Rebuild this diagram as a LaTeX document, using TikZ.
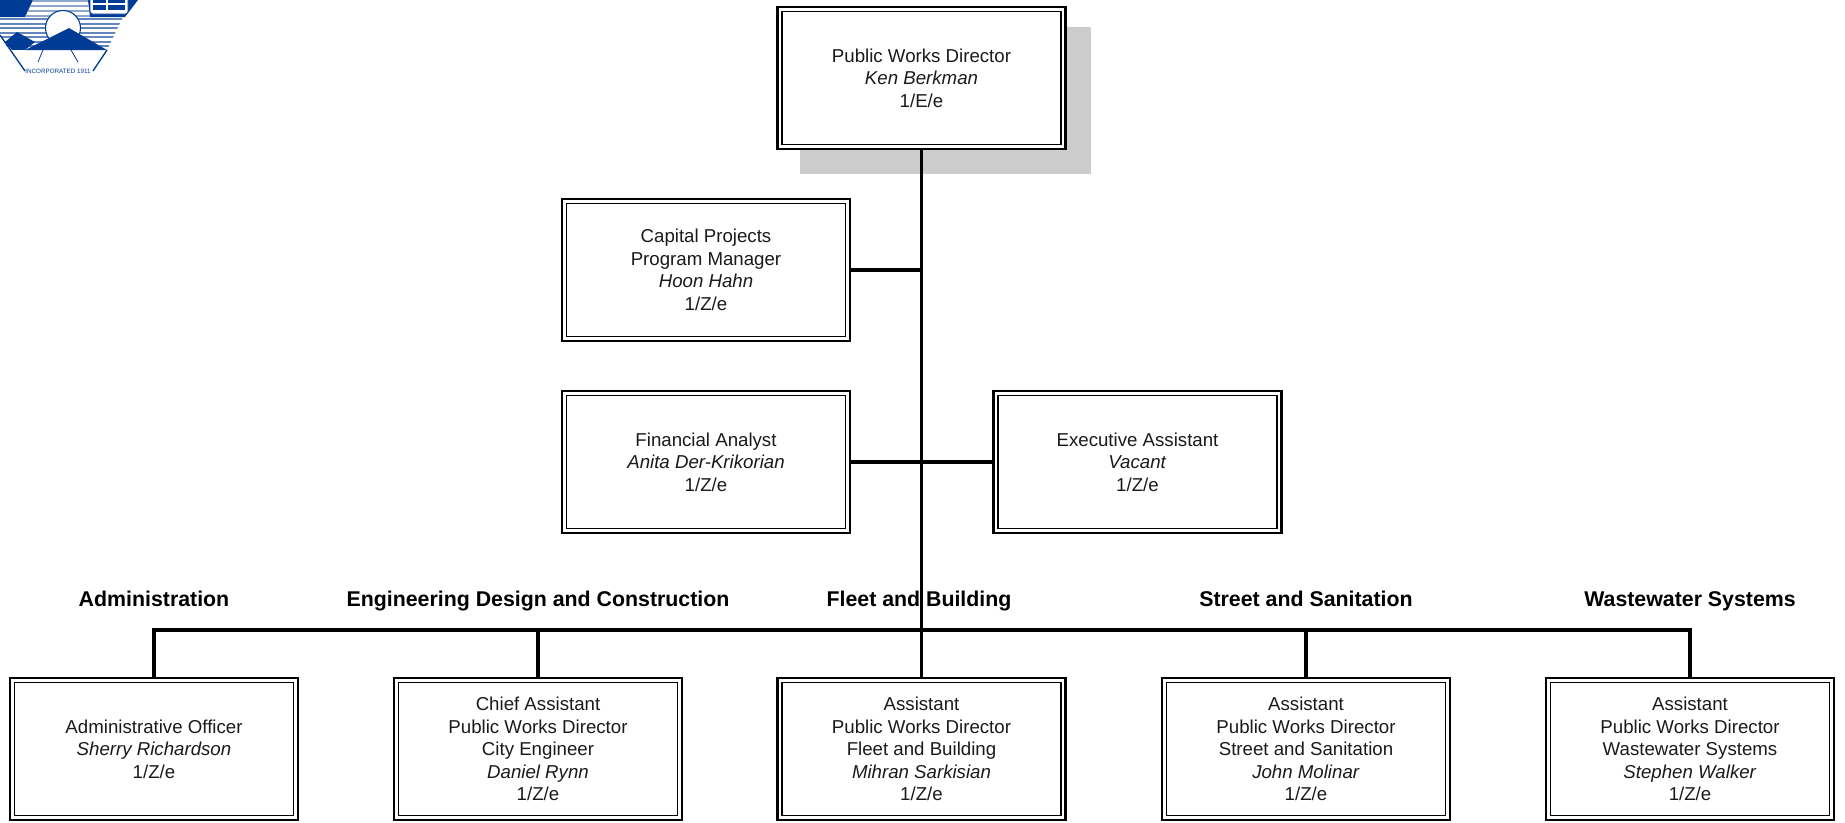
\documentclass[tikz,border=0pt]{standalone}
\usepackage{fontspec}
\setmainfont{Liberation Sans}
\definecolor{logoblue}{HTML}{003C96}
\definecolor{stripe}{HTML}{8FA6CC}
\definecolor{shadowgray}{HTML}{CCCCCC}
\definecolor{ink}{HTML}{1A1A1A}
\tikzset{
  px/.style={x=0.75pt,y=-0.75pt},
  orgbox/.style={draw=black,line width=1.9pt,fill=white,minimum width=216pt,minimum height=106.5pt,inner sep=0pt,outer sep=0pt,align=center,text=ink,font=\fontsize{14}{16.9}\selectfont,
    execute at begin node={\rule{0pt}{12.5pt}},
    path picture={\draw[black,line width=1.3pt] ([xshift=3.4pt,yshift=-3.4pt]path picture bounding box.north west) rectangle ([xshift=-3.4pt,yshift=3.4pt]path picture bounding box.south east);}},
  conn/.style={draw=black,line width=2.7pt},
  dept/.style={font=\fontsize{16}{18}\selectfont\bfseries,inner sep=0pt,anchor=base},
}
\begin{document}
\begin{tikzpicture}[px]
\useasboundingbox (0,0) rectangle (1845,822);
% logo
\begin{scope}
\clip (0,0) rectangle (1845,822);
\fill[logoblue] (0,0) -- (33,0) -- (25,17) -- (0,17) -- cycle;
\fill[logoblue] (88,0) -- (138,0) -- (125,17) -- (90,17) -- cycle;
\begin{scope}
\clip (0,17) -- (25,17) -- (33,0) -- (88,0) -- (90,17) -- (123,17) -- (107,50) -- (9,50) -- (0,35) -- cycle;
\foreach \yy in {1,6,11,16}{\draw[stripe,line width=1.3pt] (0,\yy) -- (140,\yy);}
\foreach \yy in {19,23.5,28,32.5,37,41.5,46}{\draw[stripe!70!logoblue,line width=1.5pt] (0,\yy) -- (140,\yy);}
\end{scope}
\fill[white] (63,28) circle (17.5);
\draw[logoblue,line width=0.8pt] (63,28) circle (17.5);
\fill[logoblue] (5,42) -- (17,32) -- (35,42) -- (25,50) -- (12,50) -- cycle;
\fill[white] (0,50) rectangle (120,60);
\fill[logoblue] (25,50) -- (69,28) -- (107,50) -- cycle;
\draw[logoblue,line width=1pt] (0,35) -- (25,71);
\draw[logoblue,line width=1pt] (107,50) -- (93,71);
\draw[logoblue,line width=0.6pt] (43,50) -- (38,62) (71,50) -- (78,62);
\fill[white,draw=logoblue,line width=0.6pt,rounded corners=2pt] (90,-4) rectangle (128,14);
\fill[logoblue] (93,-2) rectangle (125,10);
\draw[white,line width=0.8pt] (107,-2) -- (107,10) (93,4) -- (125,4);
\node[inner sep=0pt,text=logoblue,font=\fontsize{4.7}{5}\selectfont] (logotext) at (58,71.5) {INCORPORATED 1911};
\end{scope}
% shadow
\fill[shadowgray] (800,27) rectangle (1090.5,174);
% boxes
\node[orgbox] (dir) at (921.5,78) {Public Works Director\\\textit{Ken Berkman}\\1/E/e};
\node[orgbox] (cap) at (706,270) {Capital Projects\\Program Manager\\\textit{Hoon Hahn}\\1/Z/e};
\node[orgbox] (fin) at (706,462) {Financial Analyst\\\textit{Anita Der-Krikorian}\\1/Z/e};
\node[orgbox] (exe) at (1137.5,462) {Executive Assistant\\\textit{Vacant}\\1/Z/e};
\node[orgbox] (adm) at (154,749) {Administrative Officer\\\textit{Sherry Richardson}\\1/Z/e};
\node[orgbox] (eng) at (538,749) {Chief Assistant\\Public Works Director\\City Engineer\\\textit{Daniel Rynn}\\1/Z/e};
\node[orgbox] (flt) at (921.5,749) {Assistant\\Public Works Director\\Fleet and Building\\\textit{Mihran Sarkisian}\\1/Z/e};
\node[orgbox] (str) at (1306,749) {Assistant\\Public Works Director\\Street and Sanitation\\\textit{John Molinar}\\1/Z/e};
\node[orgbox] (wst) at (1690,749) {Assistant\\Public Works Director\\Wastewater Systems\\\textit{Stephen Walker}\\1/Z/e};
% headings
\node[dept] (h1) at (154,606.5) {Administration};
\node[dept] (h2) at (538,606.5) {Engineering Design and Construction};
\node[dept] (h3) at (919,606.5) {Fleet and Building};
\node[dept] (h4) at (1306,606.5) {Street and Sanitation};
\node[dept] (h5) at (1690,606.5) {Wastewater Systems};
% connectors
\coordinate (bus) at (921.5,630);
\draw[conn] (dir.south) -- (flt.north);
\draw[conn] (cap.east) -- (cap.east -| dir.south);
\draw[conn] (fin.east) -- (exe.west);
\draw[conn] (adm.north) |- (bus) -| (wst.north);
\draw[conn] (eng.north) -- (eng.north |- bus);
\draw[conn] (str.north) -- (str.north |- bus);
\end{tikzpicture}
\end{document}
